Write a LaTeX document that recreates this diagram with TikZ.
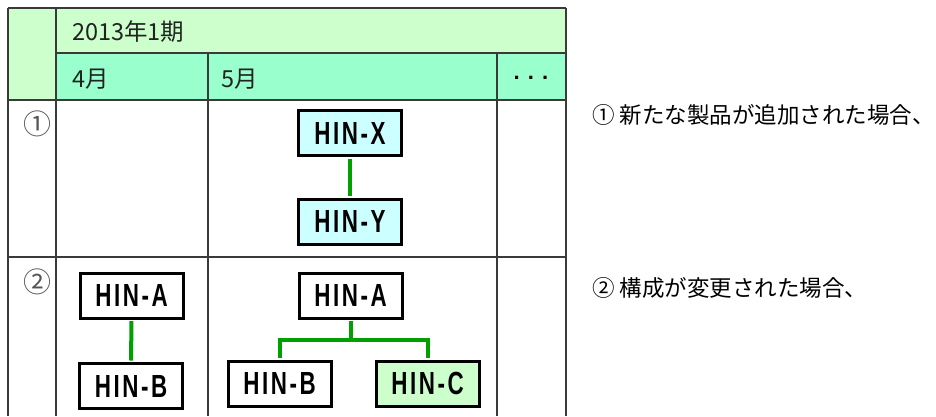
\documentclass[tikz,border=0pt]{standalone}
\usepackage{fontspec}
\usetikzlibrary{calc}
\newfontfamily\jp{Noto Sans CJK JP}
\newfontfamily\hin[FakeStretch=0.7,LetterSpace=8]{Liberation Sans Bold}
\newfontfamily\dotsfont{Liberation Sans Bold}
\definecolor{hdrA}{HTML}{CCFFCC}
\definecolor{hdrB}{HTML}{99FFCC}
\definecolor{boxcyan}{HTML}{CCFFFF}
\definecolor{boxgreen}{HTML}{CCFFCC}
\definecolor{tabline}{HTML}{3A3A3A}
\definecolor{conngreen}{HTML}{00A000}
\definecolor{hdrtext}{HTML}{222222}
\definecolor{circtext}{HTML}{555555}
\begin{document}
\begin{tikzpicture}[x=1pt,y=-1pt,
  tline/.style={draw=tabline, line width=1.4pt},
  hinbox/.style={draw=black, line width=3pt, fill=white, minimum width=103pt, minimum height=45pt, inner sep=0pt, font=\hin\fontsize{32pt}{32pt}\selectfont},
  conn/.style={draw=conngreen, line width=4pt, shorten <=1.5pt, shorten >=1.5pt},
  hdr/.style={anchor=west, inner sep=0pt, text=hdrtext, font=\jp\fontsize{23.5pt}{23.5pt}\selectfont},
  circnum/.style={inner sep=0pt, text=circtext, font=\jp\fontsize{28pt}{28pt}\selectfont},
  note/.style={anchor=west, inner sep=0pt, text=black, font=\jp\fontsize{22.5pt}{22.5pt}\selectfont}]
\useasboundingbox (0,0) rectangle (936,416);
\fill[white] (0,0) rectangle (936,416);
% header fills
\fill[hdrA] (8,8) rectangle (566,53);
\fill[hdrA] (8,53) rectangle (56,100);
\fill[hdrB] (56,53) rectangle (566,100);
% table lines
\draw[tline] (8,8) -- (566,8);
\draw[tline] (56,53) -- (566,53);
\draw[tline] (8,100) -- (566,100);
\draw[tline] (8,257) -- (566,257);
\draw[tline] (8,8) -- (8,416);
\draw[tline] (56,8) -- (56,416);
\draw[tline] (208,53) -- (208,416);
\draw[tline] (497,53) -- (497,416);
\draw[tline] (566,8) -- (566,416);
% header texts
\node[hdr] (period) at (72,32) {2013年1期};
\node[hdr] (apr) at (72,79) {4月};
\node[hdr] (may) at (221,79) {5月};
\node[inner sep=0pt, font=\dotsfont\fontsize{22pt}{22pt}\selectfont] (more) at (531,78) {. . .};
% row numbers
\node[circnum] (n1) at (37,124) {①};
\node[circnum] (n2) at (37,282) {②};
% boxes
\node[hinbox, fill=boxcyan] (X) at (350,133) {HIN-X};
\node[hinbox, fill=boxcyan] (Y) at (350,221.5) {HIN-Y};
\node[hinbox] (A4) at (131.5,295.5) {HIN-A};
\node[hinbox] (B4) at (131,386) {HIN-B};
\node[hinbox] (A5) at (350.5,295.5) {HIN-A};
\node[hinbox] (B5) at (279.5,383.5) {HIN-B};
\node[hinbox, fill=boxgreen] (C5) at (427.5,383.5) {HIN-C};
% connectors
\draw[conn] (X.south) -- (Y.north);
\draw[conn] (A4.south) -- (B4.north);
\coordinate (j) at ($(A5.south)+(0,20)$);
\draw[conn, shorten >=0pt] (A5.south) -- (j);
\draw[conn] (B5.north) |- (j) -| (C5.north);
% notes
\node[note] (t1) at (592,115) {① 新たな製品が追加された場合、};
\node[note] (t2) at (592,288) {② 構成が変更された場合、};
\end{tikzpicture}
\end{document}
